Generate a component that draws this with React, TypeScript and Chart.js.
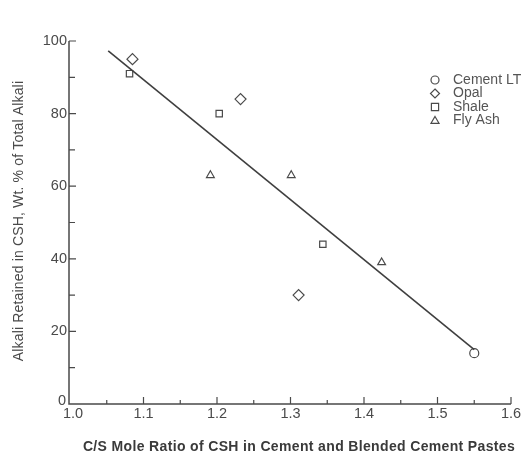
import React, { useEffect, useRef } from "react";
import { Chart, registerables } from "chart.js";

Chart.register(...registerables);

const cementLT = [{ x: 1.55, y: 14 }];
const opal = [
  { x: 1.085, y: 95 },
  { x: 1.232, y: 84 },
  { x: 1.311, y: 30 },
];
const shale = [
  { x: 1.081, y: 91 },
  { x: 1.203, y: 80 },
  { x: 1.344, y: 44 },
];
const flyAsh = [
  { x: 1.191, y: 63 },
  { x: 1.301, y: 63 },
  { x: 1.424, y: 39 },
];
const fitLine = [
  { x: 1.052, y: 97.3 },
  { x: 1.55, y: 15 },
];

const xTickValues = [1.0, 1.1, 1.2, 1.3, 1.4, 1.5, 1.6];
const xTickLabels = ["1.0", "1.1", "1.2", "1.3", "1.4", "1.5", "1.6"];
const xMinorTicks = [1.05, 1.15, 1.25, 1.35, 1.45, 1.55];
const yTickValues = [0, 20, 40, 60, 80, 100];
const yTickLabels = ["0", "20", "40", "60", "80", "100"];
const yMinorTicks = [10, 30, 50, 70, 90];

const legendLabels = ["Cement LT", "Opal", "Shale", "Fly Ash"];
const legendStyles = ["circle", "rectRot", "rect", "triangle"];

const xTitle = "C/S Mole Ratio of CSH in Cement and Blended Cement Pastes";
const yTitle = "Alkali Retained in CSH, Wt. % of Total Alkali";

const INK = "#4a4a4a";
const FONT = "'Liberation Sans', Arial, sans-serif";

function fitText(ctx: any, text: string, target: number) {
  ctx.letterSpacing = "0px";
  const w = ctx.measureText(text).width;
  const extra = (target - w) / Math.max(1, text.length - 1);
  ctx.letterSpacing = `${extra.toFixed(2)}px`;
}

function drawPointSimple(ctx: any, style: string, r: number, x: number, y: number) {
  ctx.beginPath();
  if (style === "circle") {
    ctx.arc(x, y, r, 0, Math.PI * 2);
  } else if (style === "rectRot") {
    ctx.moveTo(x, y - r);
    ctx.lineTo(x + r, y);
    ctx.lineTo(x, y + r);
    ctx.lineTo(x - r, y);
    ctx.closePath();
  } else if (style === "rect") {
    const s = r * 0.8;
    ctx.rect(x - s, y - s, 2 * s, 2 * s);
  } else {
    ctx.moveTo(x, y - r);
    ctx.lineTo(x + r, y + r * 0.7);
    ctx.lineTo(x - r, y + r * 0.7);
    ctx.closePath();
  }
  ctx.fill();
  ctx.stroke();
}

const axesPlugin = {
  id: "customAxes",
  afterDraw(chart: any) {
    const ctx = chart.ctx;
    const xs = chart.scales.x;
    const ys = chart.scales.y;
    const left = xs.getPixelForValue(1.0);
    const right = xs.getPixelForValue(1.6);
    const top = ys.getPixelForValue(100);
    const bottom = ys.getPixelForValue(0);
    ctx.save();
    ctx.strokeStyle = INK;
    ctx.lineWidth = 1.5;
    ctx.beginPath();
    ctx.moveTo(left - 1, top);
    ctx.lineTo(left - 1, bottom);
    ctx.lineTo(right, bottom);
    ctx.stroke();
    ctx.lineWidth = 1.2;
    ctx.beginPath();
    xTickValues.forEach((v, i) => {
      if (i === 0) return;
      const px = xs.getPixelForValue(v);
      ctx.moveTo(px, bottom);
      ctx.lineTo(px, bottom - 7);
    });
    xMinorTicks.forEach((v) => {
      const px = xs.getPixelForValue(v);
      ctx.moveTo(px, bottom);
      ctx.lineTo(px, bottom - 4);
    });
    yTickValues.forEach((v, i) => {
      if (i === 0) return;
      const py = ys.getPixelForValue(v);
      ctx.moveTo(left - 1, py);
      ctx.lineTo(left + 6, py);
    });
    yMinorTicks.forEach((v) => {
      const py = ys.getPixelForValue(v);
      ctx.moveTo(left - 1, py);
      ctx.lineTo(left + 5, py);
    });
    ctx.stroke();

    ctx.fillStyle = INK;
    ctx.font = `14.5px ${FONT}`;
    ctx.textBaseline = "middle";
    ctx.textAlign = "center";
    xTickValues.forEach((v, i) => {
      const px = xs.getPixelForValue(v) + (i === 0 ? 3 : 0);
      ctx.fillText(xTickLabels[i], px, bottom + 10);
    });
    ctx.textAlign = "right";
    yTickValues.forEach((v, i) => {
      const py = ys.getPixelForValue(v) - (i === 0 ? 3 : 0);
      ctx.fillText(yTickLabels[i], left - 3 - (i === 0 ? 1 : 0), py);
    });

    ctx.font = `bold 14px ${FONT}`;
    ctx.textAlign = "center";
    ctx.fillStyle = "#3a3a3a";
    fitText(ctx, xTitle, 432);
    ctx.fillText(xTitle, 299, 447);

    ctx.font = `14px ${FONT}`;
    ctx.fillStyle = INK;
    fitText(ctx, yTitle, 280);
    ctx.save();
    ctx.translate(19, 221);
    ctx.rotate(-Math.PI / 2);
    ctx.fillText(yTitle, 0, 0);
    ctx.restore();
    ctx.letterSpacing = "0px";

    // legend
    const lx = 435;
    const ly = [80, 93.5, 107, 120.5];
    ctx.font = `14px ${FONT}`;
    ctx.textAlign = "left";
    legendLabels.forEach((lab, i) => {
      ctx.strokeStyle = INK;
      ctx.lineWidth = 1.2;
      ctx.fillStyle = "#ffffff";
      const style = legendStyles[i];
      const r = style === "rectRot" ? 4.5 : style === "rect" ? 4.5 : 4;
      drawPointSimple(ctx, style, r, lx, ly[i]);
      ctx.fillStyle = "#555";
      ctx.fillText(lab, 453, ly[i]);
    });
    ctx.restore();
  },
};

export default function App() {
  const ref = useRef<HTMLCanvasElement | null>(null);
  useEffect(() => {
    if (!ref.current) return;
    const pt = (style: string, r: number) => ({
      showLine: false,
      pointStyle: style,
      pointRadius: r,
      pointBorderColor: INK,
      pointBackgroundColor: "#ffffff",
      pointBorderWidth: 1.2,
    });
    const chart = new Chart(ref.current, {
      type: "scatter",
      data: {
        datasets: [
          {
            label: "fit",
            data: fitLine,
            showLine: true,
            borderColor: "#3f3f3f",
            borderWidth: 1.6,
            pointRadius: 0,
            fill: false,
          } as any,
          { label: legendLabels[0], data: cementLT, ...pt("circle", 4.5) },
          { label: legendLabels[1], data: opal, ...pt("rectRot", 5.5) },
          { label: legendLabels[2], data: shale, ...pt("rect", 4.5) },
          { label: legendLabels[3], data: flyAsh, ...pt("triangle", 4.5) },
        ],
      },
      options: {
        responsive: false,
        animation: false,
        layout: { padding: { left: 70, top: 41, right: 12, bottom: 52 } },
        scales: {
          x: { type: "linear", min: 1.0, max: 1.6, display: false },
          y: { type: "linear", min: 0, max: 100, display: false },
        },
        plugins: { legend: { display: false }, tooltip: { enabled: false } },
      },
      plugins: [axesPlugin],
    } as any);
    return () => chart.destroy();
  }, []);
  return (
    <div style={{ position: "absolute", left: 0, top: 0, width: 523, height: 456, background: "#fff" }}>
      <canvas ref={ref} width={523} height={456} style={{ width: 523, height: 456 }} />
    </div>
  );
}
